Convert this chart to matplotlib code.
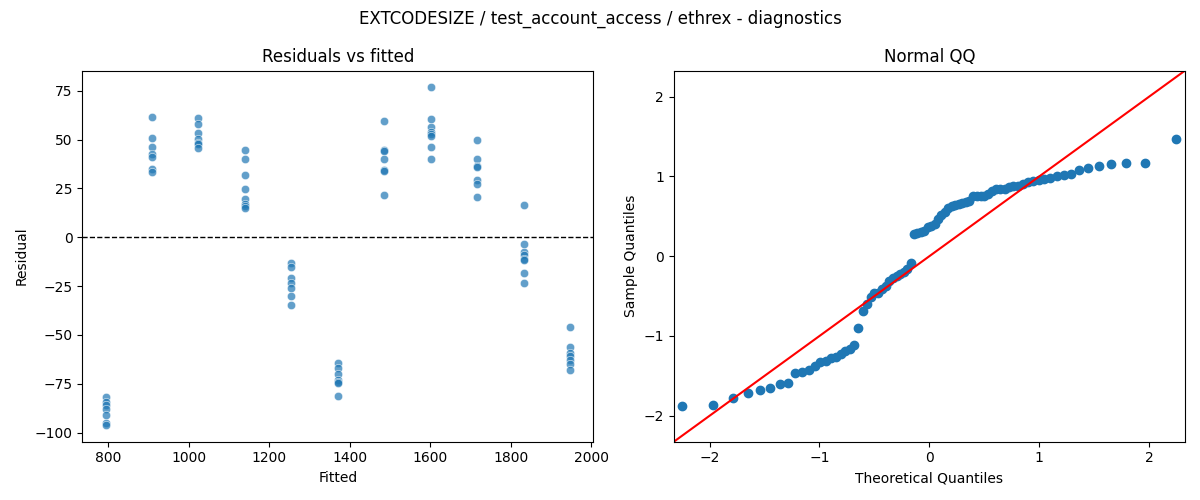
import numpy as np
import matplotlib
matplotlib.use("Agg")
import matplotlib.pyplot as plt
import seaborn as sns
from statistics import NormalDist

# fitted value of each group and the residuals
fitted_levels = [793, 908, 1023, 1139, 1255, 1370, 1486, 1601, 1717, 1832, 1948]
resid_793 = [-81.9, -84.5, -85.9, -87.8, -91.0, -95.3, -96.0]
resid_908 = [61.4, 50.7, 46.1, 42.7, 41.3, 35.0, 33.3]
resid_1023 = [60.9, 57.9, 53.3, 50.4, 48.5, 47.8, 45.6]
resid_1139 = [44.6, 40.0, 31.8, 24.7, 19.6, 17.0, 16.0, 15.0]
resid_1255 = [-13.4, -15.1, -20.7, -23.3, -25.8, -29.9, -34.5]
resid_1370 = [-64.4, -67.1, -70.1, -72.8, -74.0, -74.5, -81.0]
resid_1486 = [59.5, 44.6, 44.2, 40.0, 34.6, 34.0, 21.6]
resid_1601 = [76.7, 60.4, 56.6, 54.1, 53.0, 51.7, 46.1, 40.0]
resid_1717 = [49.7, 40.0, 36.4, 35.9, 29.4, 27.2, 20.6]
resid_1832 = [16.5, -3.4, -7.4, -9.2, -11.0, -11.7, -18.2, -23.3]
resid_1948 = [-45.7, -56.4, -59.0, -60.5, -62.8, -64.9, -68.0]

groups = [resid_793, resid_908, resid_1023, resid_1139, resid_1255, resid_1370,
          resid_1486, resid_1601, resid_1717, resid_1832, resid_1948]

fitted = np.concatenate([[f] * len(g) for f, g in zip(fitted_levels, groups)])
resid = np.concatenate(groups)

# normal QQ: residuals scaled by the residual standard error (2 model params),
# plotted against normal quantiles at positions i/(n+1)
n = len(resid)
sample_q = np.sort((resid - resid.mean()) / resid.std(ddof=2))
theo_q = np.array([NormalDist().inv_cdf(i / (n + 1)) for i in range(1, n + 1)])

fig, ax = plt.subplots(1, 2, figsize=(12, 5))
fig.suptitle("EXTCODESIZE / test_account_access / ethrex - diagnostics")

sns.scatterplot(x=fitted, y=resid, alpha=0.7, ax=ax[0])
ax[0].axhline(0, color="black", linestyle="--", linewidth=1)
ax[0].set_title("Residuals vs fitted")
ax[0].set_xlabel("Fitted")
ax[0].set_ylabel("Residual")

ax[1].plot(theo_q, sample_q, marker="o", markerfacecolor="C0",
           markeredgecolor="C0", linestyle="none")
lim = [-2.325, 2.325]
ax[1].plot(lim, lim, "r")
ax[1].set_xlim(lim)
ax[1].set_ylim(lim)
ax[1].set_title("Normal QQ")
ax[1].set_xlabel("Theoretical Quantiles")
ax[1].set_ylabel("Sample Quantiles")

plt.tight_layout()
plt.savefig("out.png", dpi=100)
